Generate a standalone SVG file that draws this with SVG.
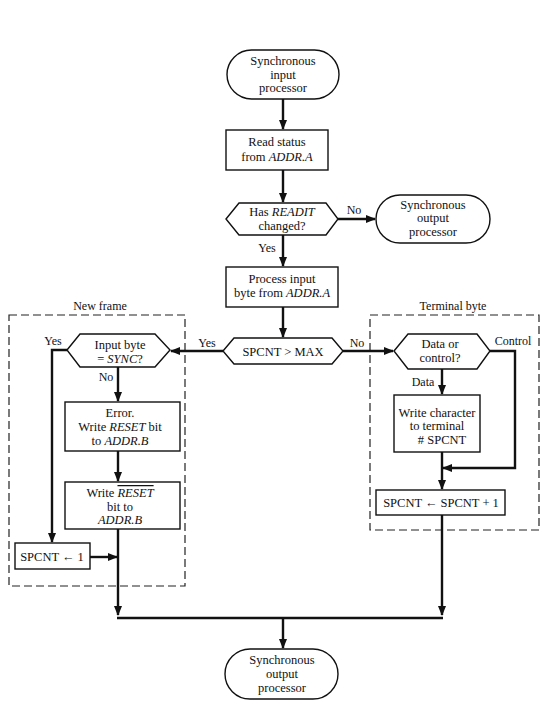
<svg xmlns="http://www.w3.org/2000/svg" width="553" height="703" viewBox="0 0 553 703">
<style>
text{font-family:"Liberation Serif","Times New Roman",serif;font-size:12.5px;fill:#111;text-anchor:middle}
.lbl{font-size:12px}
.i{font-style:italic}
.ov{font-style:italic;text-decoration:overline}
.shape{fill:#fff;stroke:#111;stroke-width:1.4}
.frame{fill:none;stroke:#222;stroke-width:1.2;stroke-dasharray:8 4}
.conn{fill:none;stroke:#111;stroke-width:2.4}
</style>
<defs>
<marker id="ah" markerUnits="userSpaceOnUse" markerWidth="10" markerHeight="8" refX="9" refY="4" orient="auto">
<path d="M0,0 L10,4 L0,8 Z" fill="#111"/>
</marker>
</defs>
<rect fill="#fff" x="0" y="0" width="553" height="703"/>

<g id="frames">
<rect class="frame" x="9" y="315" width="176" height="271"/>
<text class="lbl" x="100" y="310">New frame</text>
<rect class="frame" x="370" y="315" width="169" height="215"/>
<text class="lbl" x="453" y="310">Terminal byte</text>
</g>

<g id="connectors">
<path class="conn" d="M283,99 V129" marker-end="url(#ah)"/>
<path class="conn" d="M283,170 V202" marker-end="url(#ah)"/>
<path class="conn" d="M338,219 H375" marker-end="url(#ah)"/>
<path class="conn" d="M283,235 V266" marker-end="url(#ah)"/>
<path class="conn" d="M283,307 V337" marker-end="url(#ah)"/>
<path class="conn" d="M223,351 H171" marker-end="url(#ah)"/>
<path class="conn" d="M343,351 H393" marker-end="url(#ah)"/>
<path class="conn" d="M67,350 H52 V542" marker-end="url(#ah)"/>
<path class="conn" d="M118,367 V401" marker-end="url(#ah)"/>
<path class="conn" d="M118,451 V481" marker-end="url(#ah)"/>
<path class="conn" d="M118,529 V615" marker-end="url(#ah)"/>
<path class="conn" d="M90,557 H117" marker-end="url(#ah)"/>
<path class="conn" d="M442,369 V394" marker-end="url(#ah)"/>
<path class="conn" d="M490,351 H515 V468 H443" marker-end="url(#ah)"/>
<path class="conn" d="M442,452 V489" marker-end="url(#ah)"/>
<path class="conn" d="M442,515 V615" marker-end="url(#ah)"/>
<path class="conn" d="M117,618 H443"/>
<path class="conn" d="M283,618 V648" marker-end="url(#ah)"/>
<text class="lbl" x="354" y="214">No</text>
<text class="lbl" x="267" y="252">Yes</text>
<text class="lbl" x="207" y="347">Yes</text>
<text class="lbl" x="357" y="347">No</text>
<text class="lbl" x="53" y="345">Yes</text>
<text class="lbl" x="106" y="381">No</text>
<text class="lbl" x="513" y="345">Control</text>
<text class="lbl" x="423" y="386">Data</text>
</g>

<g id="start">
<rect class="shape" x="227" y="50" width="112" height="49" rx="24.5"/>
<text x="283" y="65">Synchronous</text>
<text x="283" y="78.5">input</text>
<text x="283" y="92">processor</text>
</g>

<g id="read-status">
<rect class="shape" x="226" y="130" width="102" height="40"/>
<text x="277" y="146">Read status</text>
<text x="277" y="161">from <tspan class="i">ADDR.A</tspan></text>
</g>

<g id="has-readit">
<polygon class="shape" points="226,219 239,203 326,203 338,219 326,235 239,235"/>
<text x="282" y="216">Has <tspan class="i">READIT</tspan></text>
<text x="282" y="230">changed?</text>
</g>

<g id="sync-output-1">
<rect class="shape" x="376" y="195" width="114" height="48" rx="24"/>
<text x="433" y="208.5">Synchronous</text>
<text x="433" y="222">output</text>
<text x="433" y="235.5">processor</text>
</g>

<g id="process-input">
<rect class="shape" x="226" y="267" width="112" height="40"/>
<text x="282" y="283">Process input</text>
<text x="282" y="297">byte from <tspan class="i">ADDR.A</tspan></text>
</g>

<g id="spcnt-max">
<polygon class="shape" points="223,351 234,338 332,338 343,351 332,364 234,364"/>
<text x="283" y="355.5">SPCNT &gt; MAX</text>
</g>

<g id="input-sync">
<polygon class="shape" points="67,350 80,334 155,334 170,350 155,367 80,367"/>
<text x="120" y="348.5">Input byte</text>
<text x="120" y="362.5">= <tspan class="i">SYNC</tspan>?</text>
</g>

<g id="error">
<rect class="shape" x="65" y="402" width="115" height="49"/>
<text x="120" y="416.5">Error.</text>
<text x="120" y="430.5">Write <tspan class="i">RESET</tspan> bit</text>
<text x="120" y="444.5">to <tspan class="i">ADDR.B</tspan></text>
</g>

<g id="write-reset">
<rect class="shape" x="65" y="482" width="115" height="47"/>
<text x="120" y="497">Write <tspan class="ov">RESET</tspan></text>
<text x="120" y="510.5">bit to</text>
<text x="120" y="524" class="i">ADDR.B</text>
</g>

<g id="spcnt-1">
<rect class="shape" x="15" y="543" width="75" height="26"/>
<text x="52" y="560.5">SPCNT ← 1</text>
</g>

<g id="data-control">
<polygon class="shape" points="394,351 408,334 477,334 490,351 477,369 408,369"/>
<text x="440" y="348">Data or</text>
<text x="440" y="362">control?</text>
</g>

<g id="write-char">
<rect class="shape" x="394" y="395" width="86" height="57"/>
<text x="437" y="416.5">Write character</text>
<text x="437" y="430">to terminal</text>
<text x="442" y="443.5"># SPCNT</text>
</g>

<g id="spcnt-inc">
<rect class="shape" x="376" y="490" width="129" height="25"/>
<text x="441" y="506.5">SPCNT ← SPCNT + 1</text>
</g>

<g id="sync-output-2">
<rect class="shape" x="225" y="649" width="113" height="50" rx="25"/>
<text x="282" y="664">Synchronous</text>
<text x="282" y="678">output</text>
<text x="282" y="692">processor</text>
</g>
</svg>
